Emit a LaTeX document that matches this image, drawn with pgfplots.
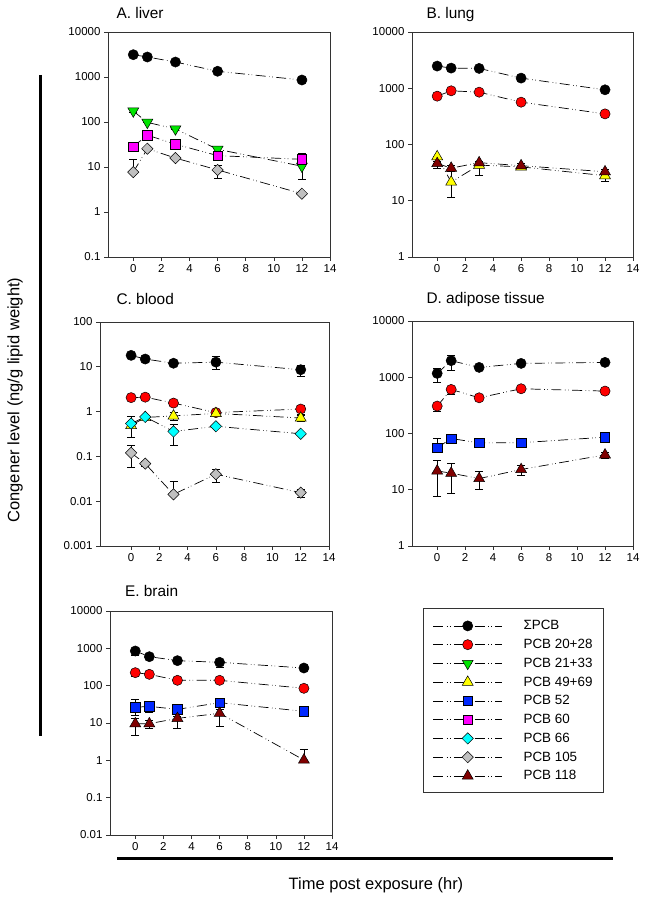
\documentclass[border=0pt]{standalone}
\usepackage{fontspec}
\setmainfont{Liberation Sans}
\usepackage{pgfplots}
\pgfplotsset{compat=1.18}
\definecolor{cgreen}{RGB}{0,230,0}
\definecolor{cyellow}{RGB}{255,255,0}
\definecolor{cblue}{RGB}{0,40,255}
\definecolor{cmag}{RGB}{255,0,255}
\definecolor{ccyan}{RGB}{0,255,255}
\definecolor{cgray}{RGB}{192,192,192}
\definecolor{cdred}{RGB}{128,0,0}
\definecolor{cred}{RGB}{255,0,0}
\pgfplotsset{
  eb/.style={error bars/y dir=both, error bars/y explicit,
    error bars/error bar style={black, line width=0.6pt, solid},
    error bars/error mark options={rotate=90, mark size=4pt, black, solid, line width=0.6pt}},
  pline/.style={black, line width=0.7pt, dash pattern=on 10pt off 3.5pt on 0.6pt off 2.5pt on 0.6pt off 3.5pt},
  sPCB/.style={pline, mark=*, mark size=5.1pt, mark options={solid, draw=black, fill=black, line width=0.5pt}},
  pA/.style={pline, mark=*, mark size=5.1pt, mark options={solid, draw=black, fill=cred, line width=0.5pt}},
  pB/.style={pline, mark=triangle*, mark size=6.3pt, mark options={solid, rotate=180, draw=black, fill=cgreen, line width=0.5pt}},
  pC/.style={pline, mark=triangle*, mark size=6.3pt, mark options={solid, draw=black, fill=cyellow, line width=0.5pt}},
  pD/.style={pline, mark=square*, mark size=4.7pt, mark options={solid, draw=black, fill=cblue, line width=0.5pt}},
  pE/.style={pline, mark=square*, mark size=4.7pt, mark options={solid, draw=black, fill=cmag, line width=0.5pt}},
  pF/.style={pline, mark=square*, mark size=4pt, mark options={solid, rotate=45, draw=black, fill=ccyan, line width=0.5pt}},
  pG/.style={pline, mark=square*, mark size=4pt, mark options={solid, rotate=45, draw=black, fill=cgray, line width=0.5pt}},
  pH/.style={pline, mark=triangle*, mark size=6.3pt, mark options={solid, draw=black, fill=cdred, line width=0.5pt}},
}
\begin{document}
\begin{tikzpicture}
\useasboundingbox (0pt,0pt) rectangle (647pt,901pt);
% ---------- A. liver
\begin{axis}[scale only axis, ymode=log, anchor=south west, at={(108pt,644pt)}, width=222pt, height=225pt,
  xmin=-1.8, xmax=14, ymin=0.1, ymax=10000,
  xtick={0,2,4,6,8,10,12,14}, xticklabels={0,2,4,6,8,10,12,14},
  ytick={0.1,1,10,100,1000,10000}, yticklabels={0.1,1,10,100,1000,10000},
  axis line style={black!80, line width=0.6pt}, tick style={black!80, line width=0.6pt},
  tick align=outside, tick pos=left, major tick length=4pt, yminorticks=false,
  tick label style={font=\fontsize{11.5}{13}\selectfont}]
\addplot[sPCB, eb] coordinates {(0,3130) += (0,150) -= (0,150) (1,2780) += (0,0) -= (0,0) (3,2150) += (0,0) -= (0,0) (6,1340) += (0,60) -= (0,60) (12,857) += (0,0) -= (0,80)};
\addplot[pB, eb] coordinates {(0,175) += (0,12) -= (0,12) (1,98) += (0,0) -= (0,0) (3,70) += (0,0) -= (0,0) (6,24.7) += (0,3) -= (0,3) (12,10.4) += (0,9.6) -= (0,5)};
\addplot[pE, eb] coordinates {(0,28.3) += (0,0) -= (0,0) (1,51) += (0,0) -= (0,0) (3,32) += (0,0) -= (0,6) (6,17.9) += (0,2) -= (0,2) (12,14.8) += (0,2) -= (0,0)};
\addplot[pG, eb] coordinates {(0,7.7) += (0,7.3) -= (0,0) (1,25.5) += (0,0) -= (0,0) (3,15.8) += (0,0) -= (0,0) (6,8.6) += (0,2.5) -= (0,2.9) (12,2.55) += (0,0) -= (0,0)};
\end{axis}
% ---------- B. lung
\begin{axis}[scale only axis, ymode=log, anchor=south west, at={(412pt,644pt)}, width=221pt, height=225pt,
  xmin=-1.8, xmax=14, ymin=1, ymax=10000,
  xtick={0,2,4,6,8,10,12,14}, xticklabels={0,2,4,6,8,10,12,14},
  ytick={1,10,100,1000,10000}, yticklabels={1,10,100,1000,10000},
  axis line style={black!80, line width=0.6pt}, tick style={black!80, line width=0.6pt},
  tick align=outside, tick pos=left, major tick length=4pt, yminorticks=false,
  tick label style={font=\fontsize{11.5}{13}\selectfont}]
\addplot[sPCB, eb] coordinates {(0,2477) += (0,100) -= (0,100) (1,2280) += (0,200) -= (0,200) (3,2250) += (0,0) -= (0,0) (6,1513) += (0,0) -= (0,0) (12,938) += (0,80) -= (0,80)};
\addplot[pA, eb] coordinates {(0,723) += (0,0) -= (0,0) (1,900) += (0,0) -= (0,0) (3,851) += (0,0) -= (0,0) (6,565) += (0,0) -= (0,0) (12,350) += (0,0) -= (0,0)};
\addplot[pC, eb] coordinates {(0,60.8) += (0,0) -= (0,10) (1,21.5) += (0,14) -= (0,9.9) (3,43) += (0,0) -= (0,14.4) (6,40) += (0,3) -= (0,3) (12,27.9) += (0,0) -= (0,6)};
\addplot[pH, eb] coordinates {(0,46) += (0,0) -= (0,8) (1,38) += (0,4) -= (0,4) (3,47.5) += (0,3) -= (0,3) (6,42) += (0,4) -= (0,4) (12,32.8) += (0,3) -= (0,3)};
\end{axis}
% ---------- C. blood
\begin{axis}[scale only axis, ymode=log, anchor=south west, at={(100pt,355pt)}, width=229pt, height=224pt,
  xmin=-2.2, xmax=14, ymin=0.001, ymax=100,
  xtick={0,2,4,6,8,10,12,14}, xticklabels={0,2,4,6,8,10,12,14},
  ytick={0.001,0.01,0.1,1,10,100}, yticklabels={0.001,0.01,0.1,1,10,100},
  axis line style={black!80, line width=0.6pt}, tick style={black!80, line width=0.6pt},
  tick align=outside, tick pos=left, major tick length=4pt, yminorticks=false,
  tick label style={font=\fontsize{11.5}{13}\selectfont}]
\addplot[sPCB, eb] coordinates {(0,18) += (0,0) -= (0,0) (1,14.9) += (0,0) -= (0,0) (3,12.0) += (0,0) -= (0,0) (6,12.7) += (0,4.3) -= (0,3.7) (12,8.6) += (0,2) -= (0,2.4)};
\addplot[pA, eb] coordinates {(0,2.05) += (0,0) -= (0,0) (1,2.1) += (0,0) -= (0,0) (3,1.55) += (0,0) -= (0,0) (6,0.95) += (0,0) -= (0,0) (12,1.14) += (0,0.25) -= (0,0.25)};
\addplot[pC, eb] coordinates {(0,0.49) += (0,0.29) -= (0,0.22) (1,0.74) += (0,0) -= (0,0) (3,0.80) += (0,0.15) -= (0,0.15) (6,0.91) += (0,0.1) -= (0,0.1) (12,0.72) += (0,0.1) -= (0,0.1)};
\addplot[pF, eb] coordinates {(0,0.54) += (0,0) -= (0,0) (1,0.76) += (0,0) -= (0,0) (3,0.36) += (0,0.15) -= (0,0.18) (6,0.47) += (0,0) -= (0,0) (12,0.32) += (0,0) -= (0,0)};
\addplot[pG, eb] coordinates {(0,0.12) += (0,0.06) -= (0,0.062) (1,0.069) += (0,0.01) -= (0,0.01) (3,0.0142) += (0,0.0138) -= (0,0) (6,0.040) += (0,0.011) -= (0,0.013) (12,0.0155) += (0,0.003) -= (0,0.003)};
\end{axis}
% ---------- D. adipose tissue
\begin{axis}[scale only axis, ymode=log, anchor=south west, at={(412pt,355pt)}, width=221pt, height=225pt,
  xmin=-1.8, xmax=14, ymin=1, ymax=10000,
  xtick={0,2,4,6,8,10,12,14}, xticklabels={0,2,4,6,8,10,12,14},
  ytick={1,10,100,1000,10000}, yticklabels={1,10,100,1000,10000},
  axis line style={black!80, line width=0.6pt}, tick style={black!80, line width=0.6pt},
  tick align=outside, tick pos=left, major tick length=4pt, yminorticks=false,
  tick label style={font=\fontsize{11.5}{13}\selectfont}]
\addplot[sPCB, eb] coordinates {(0,1170) += (0,260) -= (0,370) (1,1970) += (0,480) -= (0,630) (3,1495) += (0,0) -= (0,0) (6,1762) += (0,150) -= (0,150) (12,1836) += (0,150) -= (0,150)};
\addplot[pA, eb] coordinates {(0,307) += (0,0) -= (0,60) (1,607) += (0,0) -= (0,100) (3,431) += (0,40) -= (0,40) (6,624) += (0,60) -= (0,60) (12,567) += (0,70) -= (0,70)};
\addplot[pD, eb] coordinates {(0,55.6) += (0,28) -= (0,0) (1,81.5) += (0,0) -= (0,0) (3,68) += (0,0) -= (0,0) (6,68.5) += (0,0) -= (0,0) (12,86) += (0,0) -= (0,0)};
\addplot[pH, eb] coordinates {(0,21.6) += (0,12) -= (0,14) (1,19.7) += (0,10) -= (0,11) (3,15.8) += (0,5.2) -= (0,5.8) (6,22.9) += (0,4) -= (0,4.5) (12,41.7) += (0,5) -= (0,5)};
\end{axis}
% ---------- E. brain
\begin{axis}[scale only axis, ymode=log, anchor=south west, at={(110pt,66pt)}, width=222pt, height=224pt,
  xmin=-1.8, xmax=14, ymin=0.01, ymax=10000,
  xtick={0,2,4,6,8,10,12,14}, xticklabels={0,2,4,6,8,10,12,14},
  ytick={0.01,0.1,1,10,100,1000,10000}, yticklabels={0.01,0.1,1,10,100,1000,10000},
  axis line style={black!80, line width=0.6pt}, tick style={black!80, line width=0.6pt},
  tick align=outside, tick pos=left, major tick length=4pt, yminorticks=false,
  tick label style={font=\fontsize{11.5}{13}\selectfont}]
\addplot[sPCB, eb] coordinates {(0,849) += (0,0) -= (0,210) (1,598) += (0,0) -= (0,0) (3,468) += (0,0) -= (0,0) (6,422) += (0,0) -= (0,110) (12,297) += (0,0) -= (0,0)};
\addplot[pA, eb] coordinates {(0,223) += (0,0) -= (0,50) (1,201) += (0,0) -= (0,0) (3,139) += (0,0) -= (0,0) (6,139) += (0,0) -= (0,0) (12,85) += (0,0) -= (0,0)};
\addplot[pD, eb] coordinates {(0,26.3) += (0,17) -= (0,10) (1,27.9) += (0,8) -= (0,8) (3,23.2) += (0,5) -= (0,5) (6,35) += (0,10) -= (0,8) (12,20.6) += (0,0) -= (0,0)};
\addplot[pH, eb] coordinates {(0,9.6) += (0,4) -= (0,5) (1,9.6) += (0,2.5) -= (0,2.5) (3,13.3) += (0,2) -= (0,6) (6,18.2) += (0,5) -= (0,10) (12,1.02) += (0,0.9) -= (0,0)};
\end{axis}
% ---------- legend
\begin{axis}[hide axis, scale only axis, anchor=south west, at={(423pt,109pt)},
  width=180pt, height=184pt, xmin=0, xmax=1, ymin=0, ymax=1,
  legend style={draw=none, fill=none, at={(0.037,0.955)}, anchor=north west,
    font=\fontsize{13.4}{15}\selectfont, row sep=3.9pt, column sep=19pt, cells={anchor=west}},
  legend image code/.code={\draw[mark repeat=2, mark phase=2, #1] plot coordinates {(0pt,0pt) (34.5pt,0pt) (69pt,0pt)};}]
\addlegendimage{sPCB}\addlegendentry{ΣPCB}
\addlegendimage{pA}\addlegendentry{PCB 20+28}
\addlegendimage{pB}\addlegendentry{PCB 21+33}
\addlegendimage{pC}\addlegendentry{PCB 49+69}
\addlegendimage{pD}\addlegendentry{PCB 52}
\addlegendimage{pE}\addlegendentry{PCB 60}
\addlegendimage{pF}\addlegendentry{PCB 66}
\addlegendimage{pG}\addlegendentry{PCB 105}
\addlegendimage{pH}\addlegendentry{PCB 118}
\end{axis}
\draw[black!80, line width=0.6pt] (423pt,109pt) rectangle (603pt,293pt);
% ---------- titles and shared labels
\node[anchor=base west, font=\fontsize{15.4}{17}\selectfont] at (113pt,882pt) {A. liver};
\node[anchor=base west, font=\fontsize{15.4}{17}\selectfont] at (423pt,882pt) {B. lung};
\node[anchor=base west, font=\fontsize{15.4}{17}\selectfont] at (113pt,596.5pt) {C. blood};
\node[anchor=base west, font=\fontsize{15.4}{17}\selectfont] at (423pt,597pt) {D. adipose tissue};
\node[anchor=base west, font=\fontsize{15.4}{17}\selectfont] at (121.5pt,304.5pt) {E. brain};
\draw[line width=3pt] (40pt,826pt) -- (40pt,165pt);
\draw[line width=3pt] (117pt,42pt) -- (613pt,42pt);
\node[rotate=90, font=\fontsize{16.5}{18}\selectfont] at (15pt,501pt) {Congener level (ng/g lipid weight)};
\node[anchor=base, font=\fontsize{16.5}{18}\selectfont] at (376pt,11pt) {Time post exposure (hr)};
\end{tikzpicture}
\end{document}
